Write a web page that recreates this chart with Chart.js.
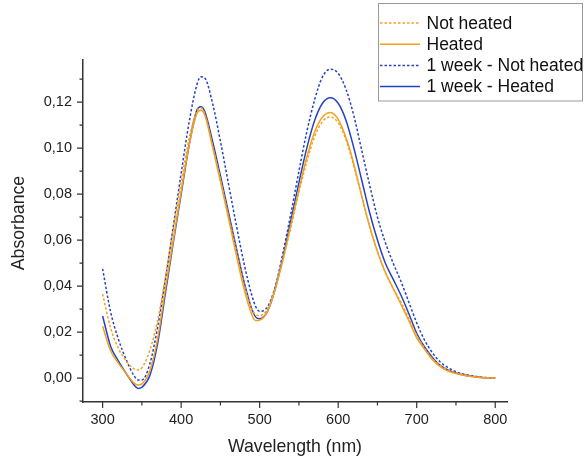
<!DOCTYPE html>
<html>
<head>
<meta charset="utf-8">
<script src="https://cdn.jsdelivr.net/npm/chart.js@4/dist/chart.umd.min.js"></script>
<style>
  html, body { margin: 0; padding: 0; background: #fff; }
  #wrap { width: 584px; height: 456px; }
</style>
</head>
<body>
<div id="wrap"><canvas id="spectra"></canvas></div>
<script>
// wavelengths (nm) shared by all four spectra
const wavelengths = [300,310,320,330,340,345,350,360,370,380,390,400,410,420,425,430,440,450,460,470,480,490,495,500,
  510,520,530,540,550,560,570,580,590,600,610,620,630,640,650,660,670,680,690,700,710,720,730,740,750,760,770,780,790,800];

const notHeated = [0.0365,0.022,0.013,0.0075,0.004,0.0035,0.0045,0.012,0.025,0.044,0.065,0.085,0.104,0.116,0.1175,0.115,0.101,0.0865,0.071,0.056,0.041,0.030,0.0275,0.0272,
  0.030,0.039,0.052,0.066,0.081,0.094,0.105,0.1115,0.1135,0.111,0.1035,0.092,0.079,0.066,0.055,0.046,0.039,0.033,0.026,0.0185,0.013,0.0085,0.0055,0.0035,0.0022,0.0013,0.0007,0.0003,0.0001,0.0];

const heated = [0.0225,0.012,0.0065,0.002,-0.0022,-0.003,-0.0025,0.003,0.017,0.039,0.060,0.081,0.101,0.115,0.1165,0.1145,0.1005,0.0855,0.070,0.054,0.039,0.0275,0.025,0.0252,
  0.029,0.039,0.052,0.067,0.082,0.096,0.107,0.1135,0.1155,0.1125,0.1045,0.093,0.079,0.066,0.055,0.046,0.039,0.032,0.025,0.0175,0.0125,0.008,0.005,0.003,0.002,0.0012,0.0007,0.0003,0.0001,0.0];

const weekNotHeated = [0.0475,0.029,0.017,0.008,0.001,-0.0008,-0.0008,0.006,0.022,0.043,0.066,0.089,0.111,0.1275,0.131,0.1305,0.1195,0.103,0.085,0.067,0.050,0.036,0.031,0.029,
  0.031,0.040,0.055,0.072,0.090,0.107,0.121,0.131,0.1343,0.1325,0.1255,0.114,0.099,0.084,0.070,0.059,0.050,0.042,0.033,0.024,0.0165,0.011,0.007,0.0045,0.0028,0.0017,0.001,0.0005,0.0002,0.0];

const weekHeated = [0.027,0.014,0.0075,0.002,-0.003,-0.0045,-0.004,0.001,0.015,0.037,0.059,0.080,0.101,0.1165,0.118,0.116,0.103,0.088,0.0725,0.057,0.042,0.030,0.0265,0.0258,
  0.029,0.039,0.053,0.069,0.085,0.100,0.112,0.1195,0.1219,0.1195,0.112,0.100,0.086,0.072,0.060,0.050,0.043,0.036,0.028,0.0195,0.0135,0.009,0.0055,0.0035,0.0022,0.0013,0.0008,0.0004,0.0001,0.0];

const seriesNames = ['Not heated', 'Heated', '1 week - Not heated', '1 week - Heated'];
const xMajor = [300, 400, 500, 600, 700, 800];
const xMinor = [350, 450, 550, 650, 750];
const yMajor = [0, 0.02, 0.04, 0.06, 0.08, 0.10, 0.12];
const yMinor = [-0.01, 0.01, 0.03, 0.05, 0.07, 0.09, 0.11, 0.13];

const ORANGE = '#f5a01e';
const BLUE = '#2443c4';
const INK = '#222';
const FONT = "'Liberation Sans', Arial, sans-serif";

function toPoints(arr) {
  return wavelengths.map((w, i) => ({ x: w, y: arr[i] }));
}

function line(label, arr, color, dotted) {
  return {
    label: label,
    data: toPoints(arr),
    borderColor: color,
    backgroundColor: color,
    borderWidth: 1.5,
    borderDash: dotted ? [2.5, 2] : [],
    pointRadius: 0,
    cubicInterpolationMode: 'monotone',
    fill: false
  };
}

// outward major/minor ticks, axis title on the left, and the boxed legend
const decorations = {
  id: 'decorations',
  afterDraw(chart) {
    const ctx = chart.ctx;
    const xs = chart.scales.x, ys = chart.scales.y;
    const area = chart.chartArea;
    ctx.save();
    ctx.strokeStyle = '#333';
    ctx.lineWidth = 1.2;
    ctx.beginPath();
    xMajor.forEach(v => { const p = xs.getPixelForValue(v); ctx.moveTo(p, area.bottom); ctx.lineTo(p, area.bottom + 6); });
    xMinor.forEach(v => { const p = xs.getPixelForValue(v); ctx.moveTo(p, area.bottom); ctx.lineTo(p, area.bottom + 3.5); });
    yMajor.forEach(v => { const p = ys.getPixelForValue(v); ctx.moveTo(area.left, p); ctx.lineTo(area.left - 6, p); });
    yMinor.forEach(v => { const p = ys.getPixelForValue(v); ctx.moveTo(area.left, p); ctx.lineTo(area.left - 3.5, p); });
    ctx.stroke();

    // y axis title
    ctx.fillStyle = INK;
    ctx.font = '17.7px ' + FONT;
    ctx.textAlign = 'center';
    ctx.textBaseline = 'middle';
    ctx.translate(19, 223);
    ctx.rotate(-Math.PI / 2);
    ctx.fillText('Absorbance', 0, 0);
    ctx.restore();

    // legend
    ctx.save();
    const bx = 378.5, by = 3.5, bw = 204, bh = 97.5;
    ctx.fillStyle = '#fff';
    ctx.fillRect(bx, by, bw, bh);
    ctx.strokeStyle = '#999';
    ctx.lineWidth = 1;
    ctx.strokeRect(bx, by, bw, bh);
    ctx.font = '17.5px ' + FONT;
    ctx.textAlign = 'left';
    ctx.textBaseline = 'middle';
    chart.data.datasets.forEach((ds, i) => {
      const yy = 23 + i * 21.2;
      ctx.strokeStyle = ds.borderColor;
      ctx.lineWidth = 1.5;
      ctx.setLineDash(ds.borderDash);
      ctx.beginPath();
      ctx.moveTo(380, yy);
      ctx.lineTo(420, yy);
      ctx.stroke();
      ctx.setLineDash([]);
      ctx.fillStyle = '#111';
      ctx.fillText(ds.label, 426.5, yy + 1);
    });
    ctx.restore();
  }
};

new Chart(document.getElementById('spectra'), {
  type: 'line',
  data: {
    datasets: [
      line(seriesNames[0], notHeated, ORANGE, true),
      line(seriesNames[1], heated, ORANGE, false),
      line(seriesNames[2], weekNotHeated, BLUE, true),
      line(seriesNames[3], weekHeated, BLUE, false)
    ]
  },
  options: {
    responsive: true,
    maintainAspectRatio: false,
    animation: false,
    layout: { padding: { top: 60, right: 77, left: 0, bottom: 0 } },
    plugins: { legend: { display: false }, tooltip: { enabled: false } },
    scales: {
      x: {
        type: 'linear',
        min: 275,
        max: 815,
        afterFit: s => { s.height = 54; },
        grid: { display: true, drawOnChartArea: false, drawTicks: false },
        border: { display: true, color: '#333', width: 1.5 },
        ticks: {
          stepSize: 100,
          includeBounds: false,
          padding: 9,
          color: INK,
          font: { family: FONT, size: 14.5 },
          maxRotation: 0
        },
        title: {
          display: true,
          text: 'Wavelength (nm)',
          color: INK,
          font: { family: FONT, size: 17.7, lineHeight: 1 },
          padding: { top: 0, bottom: 0 }
        }
      },
      y: {
        min: -0.0104,
        max: 0.1383,
        afterFit: s => { s.width = 83; },
        grid: { display: true, drawOnChartArea: false, drawTicks: false },
        border: { display: true, color: '#333', width: 1.5 },
        ticks: {
          stepSize: 0.02,
          includeBounds: false,
          padding: 11,
          color: INK,
          font: { family: FONT, size: 14.5 },
          callback: v => v.toFixed(2).replace('.', ',')
        }
      }
    }
  },
  plugins: [decorations]
});
</script>
</body>
</html>
